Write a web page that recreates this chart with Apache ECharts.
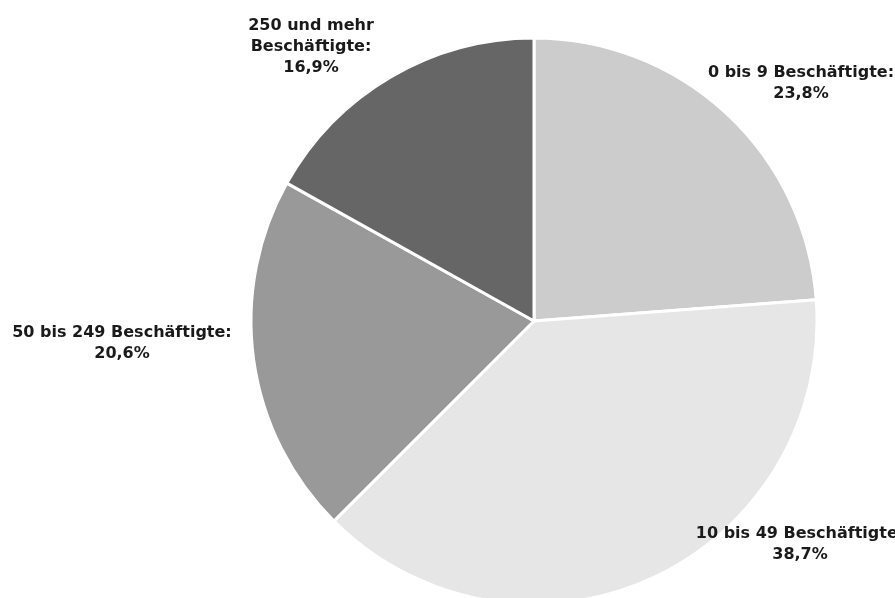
<!DOCTYPE html>
<html><head><meta charset="utf-8">
<script src="https://cdn.jsdelivr.net/npm/echarts@6/dist/echarts.min.js"></script>
<style>html,body{margin:0;padding:0;background:#fff}#c{width:895px;height:598px}</style>
</head><body><div id="c"></div>
<script>
const categories = ['0 bis 9 Beschäftigte:', '10 bis 49 Beschäftigte:', '50 bis 249 Beschäftigte:', '250 und mehr\nBeschäftigte:'];
const values = [23.8, 38.7, 20.6, 16.9];
const colors = ['#cccccc', '#e6e6e6', '#999999', '#666666'];
const labelPos = [[801, 83], [800, 544], [122, 343], [311, 47]];

const chart = echarts.init(document.getElementById('c'));
chart.setOption({
  animation: false,
  series: [{
    type: 'pie',
    center: [534, 321],
    radius: 283,
    startAngle: 90,
    clockwise: true,
    data: categories.map((n, i) => ({ name: n, value: values[i], itemStyle: { color: colors[i] } })),
    itemStyle: { borderColor: '#ffffff', borderWidth: 3 },
    label: {
      show: true,
      formatter: p => p.name + '\n' + p.value.toFixed(1).replace('.', ',') + '%',
      fontFamily: 'DejaVu Sans',
      fontWeight: 'bold',
      fontSize: 16,
      lineHeight: 21,
      color: '#1a1a1a',
      align: 'center',
      overflow: 'none',
      width: 400
    },
    labelLine: { show: false },
    labelLayout: p => ({ x: labelPos[p.dataIndex][0], y: labelPos[p.dataIndex][1], align: 'center', verticalAlign: 'middle' })
  }]
});
</script></body></html>
